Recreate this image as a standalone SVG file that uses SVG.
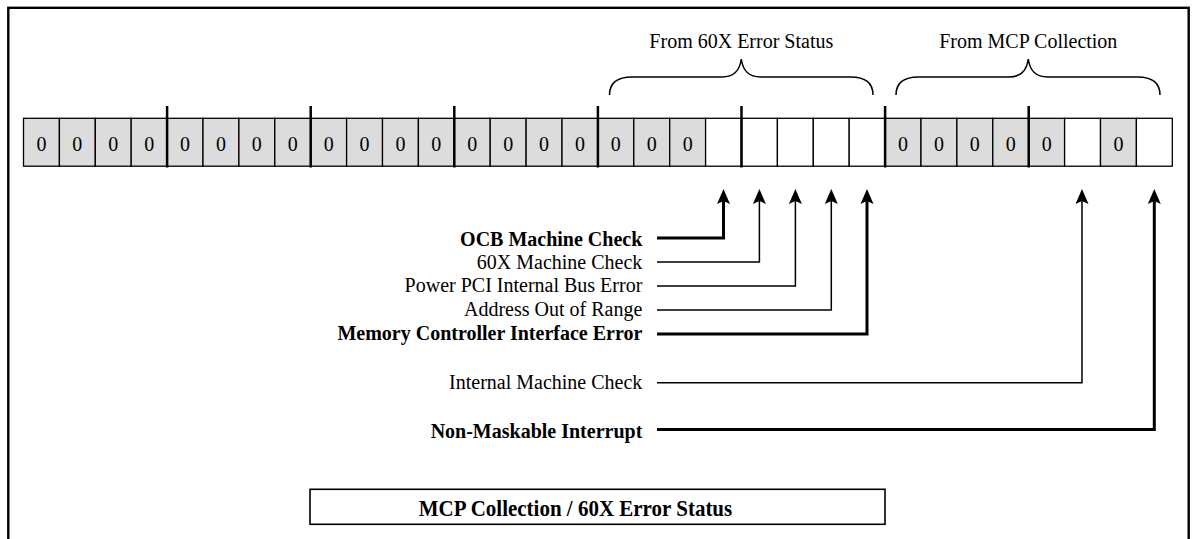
<svg xmlns="http://www.w3.org/2000/svg" width="1197" height="539" viewBox="0 0 1197 539">
<style>
.t{font-family:"Liberation Serif","Times New Roman",serif;font-size:20px;fill:#000}
.b{font-weight:bold}
.r{text-anchor:end}
.m{text-anchor:middle}
.g{fill:#dcdcdc;stroke:#000;stroke-width:1.3}
.w{fill:#fff;stroke:#000;stroke-width:1.3}
.div{stroke:#000;stroke-width:2.5}
.thin{fill:none;stroke:#000;stroke-width:1.5}
.thick{fill:none;stroke:#000;stroke-width:3}
.brace{fill:none;stroke:#000;stroke-width:1.5}
</style>
<defs>
<marker id="ah" markerUnits="userSpaceOnUse" markerWidth="15" markerHeight="13" viewBox="0 -6.5 15 13" refX="3" refY="0" orient="auto" overflow="visible">
<path d="M15,0 L0,-6.5 L3,0 L0,6.5 Z" fill="#000"/>
</marker>
</defs>
<rect x="8.3" y="7.8" width="1180.4" height="600" fill="#fff" stroke="#000" stroke-width="2.4"/>

<g id="register">
<rect class="g" x="23.5" y="118.3" width="35.9" height="47.9"/>
<rect class="g" x="59.4" y="118.3" width="35.9" height="47.9"/>
<rect class="g" x="95.3" y="118.3" width="35.9" height="47.9"/>
<rect class="g" x="131.2" y="118.3" width="35.9" height="47.9"/>
<rect class="g" x="167.1" y="118.3" width="35.9" height="47.9"/>
<rect class="g" x="203.0" y="118.3" width="35.9" height="47.9"/>
<rect class="g" x="238.9" y="118.3" width="35.9" height="47.9"/>
<rect class="g" x="274.8" y="118.3" width="35.9" height="47.9"/>
<rect class="g" x="310.7" y="118.3" width="35.9" height="47.9"/>
<rect class="g" x="346.6" y="118.3" width="35.9" height="47.9"/>
<rect class="g" x="382.5" y="118.3" width="35.9" height="47.9"/>
<rect class="g" x="418.4" y="118.3" width="35.9" height="47.9"/>
<rect class="g" x="454.3" y="118.3" width="35.9" height="47.9"/>
<rect class="g" x="490.2" y="118.3" width="35.9" height="47.9"/>
<rect class="g" x="526.1" y="118.3" width="35.9" height="47.9"/>
<rect class="g" x="562.0" y="118.3" width="35.9" height="47.9"/>
<rect class="g" x="597.9" y="118.3" width="35.9" height="47.9"/>
<rect class="g" x="633.8" y="118.3" width="35.9" height="47.9"/>
<rect class="g" x="669.7" y="118.3" width="35.9" height="47.9"/>
<rect class="w" x="705.6" y="118.3" width="35.9" height="47.9"/>
<rect class="w" x="741.5" y="118.3" width="35.9" height="47.9"/>
<rect class="w" x="777.4" y="118.3" width="35.9" height="47.9"/>
<rect class="w" x="813.3" y="118.3" width="35.9" height="47.9"/>
<rect class="w" x="849.2" y="118.3" width="35.9" height="47.9"/>
<rect class="g" x="885.1" y="118.3" width="35.9" height="47.9"/>
<rect class="g" x="921.0" y="118.3" width="35.9" height="47.9"/>
<rect class="g" x="956.9" y="118.3" width="35.9" height="47.9"/>
<rect class="g" x="992.8" y="118.3" width="35.9" height="47.9"/>
<rect class="g" x="1028.7" y="118.3" width="35.9" height="47.9"/>
<rect class="w" x="1064.6" y="118.3" width="35.9" height="47.9"/>
<rect class="g" x="1100.5" y="118.3" width="35.9" height="47.9"/>
<rect class="w" x="1136.4" y="118.3" width="35.9" height="47.9"/>
<g class="t m">
<text x="41.45" y="150.5">0</text>
<text x="77.35" y="150.5">0</text>
<text x="113.25" y="150.5">0</text>
<text x="149.15" y="150.5">0</text>
<text x="185.05" y="150.5">0</text>
<text x="220.95" y="150.5">0</text>
<text x="256.85" y="150.5">0</text>
<text x="292.75" y="150.5">0</text>
<text x="328.65" y="150.5">0</text>
<text x="364.55" y="150.5">0</text>
<text x="400.45" y="150.5">0</text>
<text x="436.35" y="150.5">0</text>
<text x="472.25" y="150.5">0</text>
<text x="508.15" y="150.5">0</text>
<text x="544.05" y="150.5">0</text>
<text x="579.95" y="150.5">0</text>
<text x="615.85" y="150.5">0</text>
<text x="651.75" y="150.5">0</text>
<text x="687.65" y="150.5">0</text>
<text x="903.05" y="150.5">0</text>
<text x="938.95" y="150.5">0</text>
<text x="974.85" y="150.5">0</text>
<text x="1010.75" y="150.5">0</text>
<text x="1046.65" y="150.5">0</text>
<text x="1118.45" y="150.5">0</text>
</g>
<g class="div">
<line x1="167.1" y1="106" x2="167.1" y2="167.5"/>
<line x1="310.7" y1="106" x2="310.7" y2="167.5"/>
<line x1="454.3" y1="106" x2="454.3" y2="167.5"/>
<line x1="597.9" y1="106" x2="597.9" y2="167.5"/>
<line x1="741.5" y1="106" x2="741.5" y2="167.5"/>
<line x1="885.1" y1="106" x2="885.1" y2="167.5"/>
<line x1="1028.7" y1="106" x2="1028.7" y2="167.5"/>
</g>
</g>

<g id="brace-60x">
<path class="brace" d="M609.5,95 Q609.5,77 632,77 L722,77 Q739,77 741.3,59 Q743.6,77 760.6,77 L850.6,77 Q873,77 873,95"/>
<text class="t m" x="741.3" y="48.3">From 60X Error Status</text>
</g>
<g id="brace-mcp">
<path class="brace" d="M896,95 Q896,77 918.5,77 L1009,77 Q1026,77 1028.3,59 Q1030.6,77 1047.6,77 L1137.5,77 Q1160,77 1160,95"/>
<text class="t m" x="1028.3" y="48.3">From MCP Collection</text>
</g>

<g id="labels">
<text class="t b r" x="642.3" y="245.7">OCB Machine Check</text>
<text class="t r" x="642.3" y="268.8">60X Machine Check</text>
<text class="t r" x="642.3" y="292.2">Power PCI Internal Bus Error</text>
<text class="t r" x="642.3" y="315.9">Address Out of Range</text>
<text class="t b r" x="642.3" y="340">Memory Controller Interface Error</text>
<text class="t r" x="642.3" y="388.5">Internal Machine Check</text>
<text class="t b r" x="642.3" y="437.5">Non-Maskable Interrupt</text>
</g>

<g id="connectors">
<path class="thick" d="M657,238 H723.5 V201" marker-end="url(#ah)"/>
<path class="thin" d="M657,262 H759.4 V201" marker-end="url(#ah)"/>
<path class="thin" d="M657,286 H795.4 V201" marker-end="url(#ah)"/>
<path class="thin" d="M657,310 H831.3 V201" marker-end="url(#ah)"/>
<path class="thick" d="M657,334 H867 V201" marker-end="url(#ah)"/>
<path class="thin" d="M657,382.7 H1082 V201" marker-end="url(#ah)"/>
<path class="thick" d="M657,429.5 H1154.3 V201" marker-end="url(#ah)"/>
</g>

<g id="title">
<rect x="310" y="489.3" width="575" height="35" fill="#fff" stroke="#000" stroke-width="1.6"/>
<text class="t b m" style="font-size:21px" transform="translate(575.5,516) scale(1,1.12)" x="0" y="0">MCP Collection / 60X Error Status</text>
</g>
</svg>
